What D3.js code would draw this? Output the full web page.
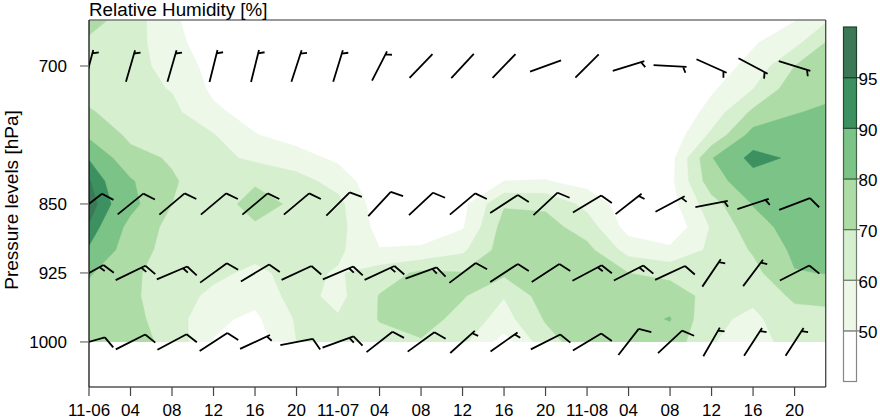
<!DOCTYPE html>
<html><head><meta charset="utf-8">
<script src="https://cdn.jsdelivr.net/npm/d3@7"></script>
<style>
body{margin:0;background:#fff;}
svg{display:block;}
text{font-family:"Liberation Sans",Arial,Helvetica,sans-serif;fill:#000;}
</style>
</head><body>
<svg id="chart" width="880" height="418"></svg>
<script>
// ---------------- DATA ----------------
// grid of relative humidity (%), one array per time column (hours since 11-06 00 UTC),
// values from 650 hPa (top) to 1000 hPa (bottom)
const gridHours = [0,4,8,12,16,20,24,28,32,36,40,44,48,52,56,60,64,68,72];
const gridLevels = [650,675,700,725,750,775,800,825,850,875,900,925,950,975,1000];
const rh_h00 = [74,68,64,66,71,78,89.5,95.5,98,94.5,89,81,77,76,75];
const rh_h04 = [65,64,63,63,65,68,73,81,83,77,75,72,72,73,74];
const rh_h08 = [52,54,57,59.5,62.5,66,69,71,70,67,66,65,64,65,67];
const rh_h12 = [42,43,46,48,52,60.5,63,65,66,66,65,62,58,52,49.5];
const rh_h16 = [40,41,42,43,46,50.5,58,69,73,69,63,58,53,48,44];
const rh_h20 = [38,38,39,40,42,46,54,64,68.5,66,64,63,64,61,60];
const rh_h24 = [37,37,37,38,40,43,48,56,63,64,62,59,57,61,63];
const rh_h28 = [36,36,36,36,37,39,41,42,44,46,50.5,65,70.5,70.5,67];
const rh_h32 = [35,35,35,35,36,37,39,41,43,46,51,72,76,75,69];
const rh_h36 = [36,36,37,38,39,41,43,45,47,49,58,70.5,71,66,62];
const rh_h40 = [38,38,38,39,40,42,45,50,69,74,75,72,60.5,56,46];
const rh_h44 = [37,37,37,38,39,41,44,50.5,68,74,76,76,75,71,66];
const rh_h48 = [36,36,36,37,38,40,42,46,57,65,73,76,77,77,76];
const rh_h52 = [35,35,35,36,37,39,41,43,44,46,56,70,76,77,77];
const rh_h56 = [36,36,37,38,40,43,46,47,46,42,52,67,76,80.5,76];
const rh_h60 = [38,41,45,48.5,54,62,79.5,76,66,61,62,64,66,62,60.5];
const rh_h64 = [46,49,53,60,72,84,93,86,80.5,76,71,67,62,58,56];
const rh_h68 = [49.5,57,70,76,79.5,84,88.5,86,85,84,82,79.5,72,66,64];
const rh_h72 = [62,75,76,78,82,84,85,85,85,85,84,80.5,74,66,65];
const rhColumns = [rh_h00,rh_h04,rh_h08,rh_h12,rh_h16,rh_h20,rh_h24,rh_h28,rh_h32,rh_h36,
                   rh_h40,rh_h44,rh_h48,rh_h52,rh_h56,rh_h60,rh_h64,rh_h68,rh_h72];

// filled-contour classes
const bandBreaks = [50,60,70,80,90,95];
const bandColors = ["#edf8e9","#d5efcf","#aedca6","#7cc388","#3d9160","#3b7956"];
const legendLabels = ["50","60","70","80","90","95"];

// wind barbs (every 4 h), direction the staff points to (deg, clockwise from north), speed (kt)
const barbHours = [0,4,8,12,16,20,24,28,32,36,40,44,48,52,56,60,64,68];
const barbLevels = [700,850,925,1000];
const dir700  = [15,16,16,14,14,18,17,27,44,43,44,70,45,73,93,114,118,107];
const spd700  = [5,5,5,5,5,5,5,5,0,0,0,0,0,5,5,5,5,5];
const dir850  = [52,51,50,50,50,50,45,43,47,50,57,47,59,52,62,79,72,69];
const spd850  = [10,10,10,10,10,10,10,10,10,10,10,10,10,5,5,5,5,10];
const dir925  = [61,64,67,54,59,65,67,65,70,53,57,57,62,63,65,34,37,63];
const spd925  = [15,15,15,10,10,10,15,15,15,10,10,10,15,15,10,5,5,10];
const dir1000 = [74,63,62,57,65,79,70,52,54,48,55,63,59,38,47,30,33,33];
const spd1000 = [10,10,10,10,5,10,15,10,10,5,5,10,10,10,10,5,5,5];
const barbDirs = [dir700,dir850,dir925,dir1000];
const barbSpeeds = [spd700,spd850,spd925,spd1000];

// axes
const xTickHours = [0,4,8,12,16,20,24,28,32,36,40,44,48,52,56,60,64,68];
const xTickLabels = ["11-06","04","08","12","16","20","11-07","04","08","12","16","20","11-08","04","08","12","16","20"];
const yTickLevels = [700,850,925,1000];

// ---------------- CHART ----------------
const svg = d3.select("#chart");
const L = 89, R = 825.7, T = 20, B = 387;
const x = d3.scaleLinear().domain([0,71]).range([L,R]);
const y = d3.scaleLinear().domain([650,1049]).range([T,B]);

const defs = svg.append("defs");
defs.append("clipPath").attr("id","clipField").append("rect")
  .attr("x",L).attr("y",T).attr("width",R-L).attr("height",y(1000)-T);
defs.append("clipPath").attr("id","clipPlot").append("rect")
  .attr("x",L).attr("y",T).attr("width",R-L).attr("height",B-T);

// contour field
const nx = gridHours.length, ny = gridLevels.length;
const values = new Array(nx*ny);
for (let j=0;j<ny;j++) for (let i=0;i<nx;i++) values[j*nx+i] = rhColumns[i][j];
const contours = d3.contours().size([nx,ny]).thresholds(bandBreaks)(values);
const dh = gridHours[1]-gridHours[0], dp = gridLevels[1]-gridLevels[0];
const proj = d3.geoTransform({point(px,py){
  this.stream.point(x(gridHours[0]+(px-0.5)*dh), y(gridLevels[0]+(py-0.5)*dp));
}});
const gpath = d3.geoPath(proj);
svg.append("g").attr("clip-path","url(#clipField)")
  .selectAll("path").data(contours).join("path")
  .attr("d",gpath)
  .attr("fill",(d,i)=>bandColors[i])
  .attr("stroke",(d,i)=>bandColors[i]).attr("stroke-width",0.4);

// wind barbs
function barbPath(cx,cy,dir,spd){
  const r = dir*Math.PI/180;
  const u = [Math.sin(r),-Math.cos(r)];
  const p = [Math.cos(r),Math.sin(r)];
  const hl = 16.5;
  const tip = [cx+u[0]*hl, cy+u[1]*hl];
  const tail = [cx-u[0]*hl, cy-u[1]*hl];
  let d = `M${tail[0]},${tail[1]}L${tip[0]},${tip[1]}`;
  const a = 66*Math.PI/180;
  const fv = [Math.cos(a)*u[0]+Math.sin(a)*p[0], Math.cos(a)*u[1]+Math.sin(a)*p[1]];
  let full = Math.floor(spd/10), half = (spd%10)>=5 ? 1 : 0;
  let pos = (full===0 && half) ? 3.5 : 0;
  for (let k=0;k<full;k++){
    const b=[tip[0]-u[0]*pos, tip[1]-u[1]*pos];
    d += `M${b[0]},${b[1]}L${b[0]+fv[0]*13},${b[1]+fv[1]*13}`;
    pos += 4.5;
  }
  if (half){
    const b=[tip[0]-u[0]*pos, tip[1]-u[1]*pos];
    d += `M${b[0]},${b[1]}L${b[0]+fv[0]*6.5},${b[1]+fv[1]*6.5}`;
  }
  return d;
}
const barbData = [];
barbLevels.forEach((lv,li)=>barbHours.forEach((h,hi)=>barbData.push({h,lv,dir:barbDirs[li][hi],spd:barbSpeeds[li][hi]})));
svg.append("g").attr("clip-path","url(#clipPlot)")
  .selectAll("path").data(barbData).join("path")
  .attr("d",d=>barbPath(x(d.h),y(d.lv),d.dir,d.spd))
  .attr("fill","none").attr("stroke","#000").attr("stroke-width",1.8);

// frame
svg.append("line").attr("x1",L).attr("x2",R).attr("y1",T).attr("y2",T).attr("stroke","#777").attr("stroke-width",1.5);
svg.append("line").attr("x1",R).attr("x2",R).attr("y1",T).attr("y2",B).attr("stroke","#444").attr("stroke-width",1.3);
svg.append("line").attr("x1",L).attr("x2",L).attr("y1",T).attr("y2",B).attr("stroke","#000").attr("stroke-width",1.2);
svg.append("line").attr("x1",L).attr("x2",R).attr("y1",B).attr("y2",B).attr("stroke","#000").attr("stroke-width",1.2);

// x axis
const xg = svg.append("g");
xg.selectAll("line").data(xTickHours).join("line")
  .attr("x1",d=>x(d)).attr("x2",d=>x(d)).attr("y1",B).attr("y2",B+9)
  .attr("stroke","#444").attr("stroke-width",1.2);
xg.selectAll("text").data(xTickHours).join("text")
  .attr("x",d=>x(d)).attr("y",415.5).attr("text-anchor","middle").attr("font-size",17)
  .text((d,i)=>xTickLabels[i]);

// y axis
const yg = svg.append("g");
yg.selectAll("line").data(yTickLevels).join("line")
  .attr("x1",L-9).attr("x2",L).attr("y1",d=>y(d)).attr("y2",d=>y(d))
  .attr("stroke","#777").attr("stroke-width",1.3);
yg.selectAll("text").data(yTickLevels).join("text")
  .attr("x",67).attr("y",d=>y(d)+6).attr("text-anchor","end").attr("font-size",17)
  .text(d=>d);
svg.append("text").attr("transform","translate(17.5,200) rotate(-90)")
  .attr("text-anchor","middle").attr("font-size",19).text("Pressure levels [hPa]");

// title
svg.append("text").attr("x",89).attr("y",15.5).attr("font-size",18.8).text("Relative Humidity [%]");

// legend
const lgTop = 27, lgBot = 381.5, lgX = 843.5, lgW = 13;
const nBox = bandColors.length+1;
const bh = (lgBot-lgTop)/nBox;
const lgColors = ["#ffffff"].concat(bandColors);
const lg = svg.append("g");
lg.selectAll("rect").data(lgColors).join("rect")
  .attr("x",lgX).attr("width",lgW)
  .attr("y",(d,i)=>lgBot-(i+1)*bh).attr("height",bh)
  .attr("fill",d=>d).attr("stroke",d=>d3.color(d).darker(1.8)).attr("stroke-width",1.2);
lg.selectAll("line").data(legendLabels).join("line")
  .attr("x1",lgX+lgW).attr("x2",lgX+lgW+3.5)
  .attr("y1",(d,i)=>lgBot-(i+1)*bh).attr("y2",(d,i)=>lgBot-(i+1)*bh)
  .attr("stroke",(d,i)=>d3.color(bandColors[i]).darker(1.8)).attr("stroke-width",1.2);
lg.selectAll("text").data(legendLabels).join("text")
  .attr("x",858.5).attr("y",(d,i)=>lgBot-(i+1)*bh+7.5).attr("font-size",17)
  .text(d=>d);
</script>
</body></html>
